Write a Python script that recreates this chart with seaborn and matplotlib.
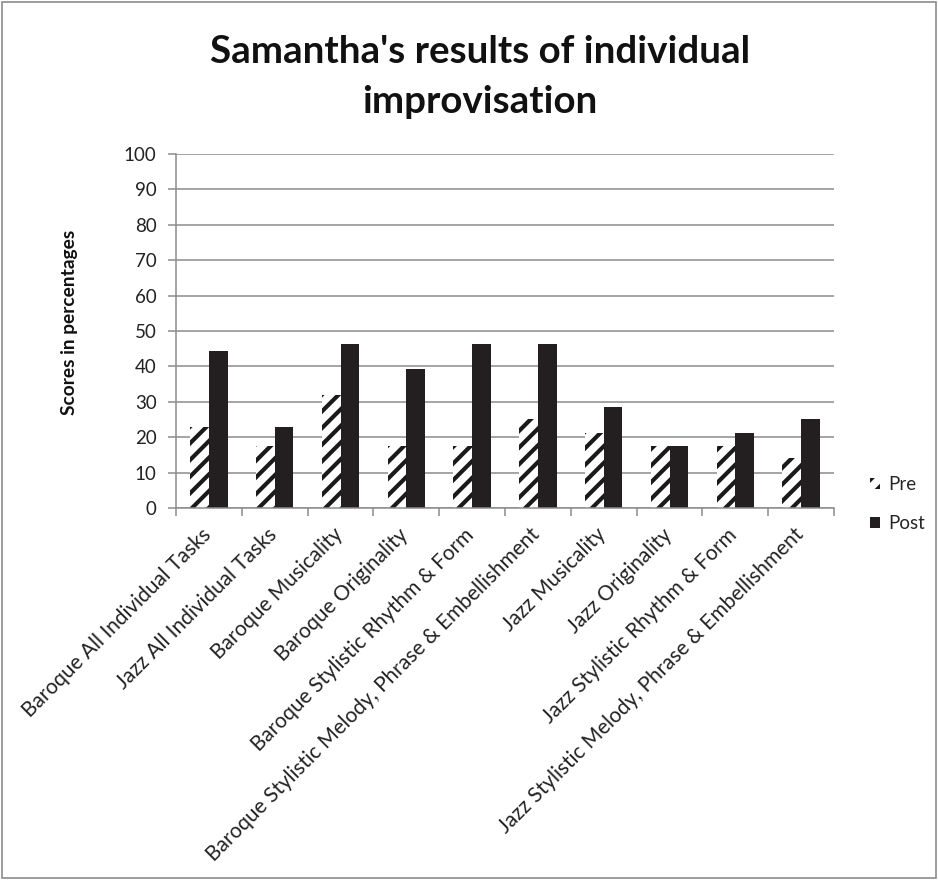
import matplotlib
matplotlib.use("Agg")
import matplotlib.pyplot as plt
import seaborn as sns
import pandas as pd
from matplotlib.patches import Patch, Rectangle
from matplotlib.transforms import ScaledTranslation

categories = [
    "Baroque All Individual Tasks",
    "Jazz All Individual Tasks",
    "Baroque Musicality",
    "Baroque Originality",
    "Baroque Stylistic Rhythm & Form",
    "Baroque Stylistic Melody, Phrase & Embellishment",
    "Jazz Musicality",
    "Jazz Originality",
    "Jazz Stylistic Rhythm & Form",
    "Jazz Stylistic Melody, Phrase & Embellishment",
]
pre = [23.0, 17.6, 32.0, 17.6, 17.6, 25.0, 21.2, 17.6, 17.6, 14.0]
post = [44.4, 23.0, 46.4, 39.2, 46.4, 46.4, 28.4, 17.6, 21.2, 25.0]
series = ["Pre", "Post"]
yticks = list(range(0, 101, 10))
title_lines = ["Samantha's results of individual", "improvisation"]

df = pd.DataFrame({
    "category": categories * 2,
    "score": pre + post,
    "series": [series[0]] * len(categories) + [series[1]] * len(categories),
})

sns.set_theme(style="white")
plt.rcParams["font.family"] = ["Lato", "DejaVu Sans"]
plt.rcParams["hatch.linewidth"] = 3.0

fig = plt.figure(figsize=(9.38, 8.8), dpi=100)
ax = fig.add_axes([176 / 938, 1 - 508 / 880, (834 - 176) / 938, (508 - 154) / 880])

sns.barplot(data=df, x="category", y="score", hue="series", order=categories,
            hue_order=series, palette={"Pre": "white", "Post": "#231f20"},
            width=0.57, gap=0, saturation=1, legend=False, ax=ax)

n = len(categories)
for i, bar in enumerate(ax.patches[:2 * n]):
    if i < n:
        bar.set_facecolor("white")
        bar.set_edgecolor("#1a1a1a")
        bar.set_hatch("//")
        bar.set_linewidth(0)
    else:
        bar.set_facecolor("#231f20")
        bar.set_edgecolor("#231f20")
        bar.set_linewidth(0)

ax.set_ylim(0, 100)
ax.set_xlim(-0.5, n - 0.5)
ax.set_yticks(yticks)
ax.set_yticklabels([str(t) for t in yticks], fontsize=13.5, color="#222222")
ax.yaxis.grid(True, color="#8c8c8c", linewidth=1.1)
ax.set_axisbelow(True)
for s in ["top", "right"]:
    ax.spines[s].set_visible(False)
for s in ["left", "bottom"]:
    ax.spines[s].set_color("#8c8c8c")
    ax.spines[s].set_linewidth(1.1)
ax.tick_params(axis="y", which="major", length=6, width=1.1, color="#8c8c8c",
               direction="out", left=True, pad=8)

ax.set_xticks(range(n))
ax.set_xticks([i - 0.5 for i in range(n + 1)], minor=True)
ax.tick_params(axis="x", which="major", length=0, pad=17)
ax.tick_params(axis="x", which="minor", length=6, width=1.1, color="#8c8c8c",
               direction="out", bottom=True)
ax.set_xticklabels(categories, rotation=45, ha="right", va="center",
                   rotation_mode="anchor", fontsize=15, color="#222222")
shift = ScaledTranslation(-1 / 100, 0, fig.dpi_scale_trans)
for lab in ax.get_xticklabels():
    lab.set_transform(lab.get_transform() + shift)
ax.set_xlabel("")
ax.set_ylabel("Scores in percentages", fontsize=13.8, fontweight="bold",
              color="#111111")
ax.yaxis.set_label_coords((78 - 176) / 658, 0.523)

fig.text(480 / 938, 1 - 63 / 880, title_lines[0], ha="center", va="baseline",
         fontsize=27.7, fontweight="bold", color="#111111")
fig.text(480 / 938, 1 - 113 / 880, title_lines[1], ha="center", va="baseline",
         fontsize=27.7, fontweight="bold", color="#111111")

handles = [
    Patch(facecolor="white", edgecolor="#1a1a1a", hatch="//", linewidth=0),
    Patch(facecolor="#231f20", edgecolor="#231f20", linewidth=0),
]
fig.legend(handles, series, loc="center left", bbox_to_anchor=(870 / 938, 1 - 504 / 880),
           frameon=False, fontsize=13.5, handlelength=0.55, handleheight=0.55,
           handletextpad=0.4, labelspacing=1.15, borderaxespad=0, borderpad=0)

fig.patches.append(Rectangle((0.002, 0.002), 0.996, 0.996, transform=fig.transFigure,
                             fill=False, edgecolor="#8c8c8c", linewidth=1.2))

fig.savefig("out.png", dpi=100)
